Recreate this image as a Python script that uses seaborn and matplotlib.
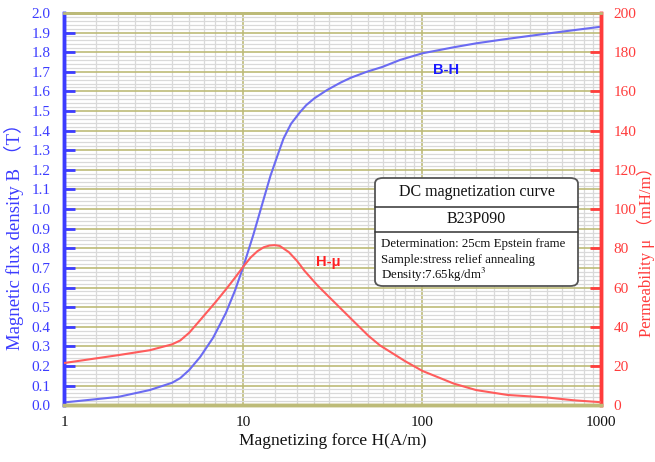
import numpy as np
import pandas as pd
import matplotlib
matplotlib.use("Agg")
import matplotlib.pyplot as plt
import seaborn as sns
from matplotlib.patches import FancyBboxPatch
from matplotlib.ticker import FixedLocator, NullFormatter, NullLocator, MultipleLocator

# B-H magnetization curve
h_b = [1, 2, 3, 4, 4.45, 5, 5.75, 6.8, 8, 9, 10, 11.4, 12, 13, 14.2, 15.5, 16.8,
       18.5, 20.8, 22.5, 25, 29.4, 35, 40, 49, 60, 75, 100, 150, 200, 284, 500,
       700, 1000]
b_t = [0.014, 0.042, 0.077, 0.114, 0.138, 0.18, 0.246, 0.345, 0.47, 0.585, 0.705,
       0.87, 0.94, 1.05, 1.17, 1.27, 1.36, 1.435, 1.495, 1.53, 1.565, 1.607, 1.645,
       1.67, 1.70, 1.725, 1.76, 1.794, 1.825, 1.845, 1.865, 1.895, 1.912, 1.93]

# H-mu permeability curve
h_mu = [1, 2, 3, 4, 4.45, 5, 5.75, 7, 8, 9, 10, 11, 12, 13, 14, 15, 16, 18, 20,
        22, 25.9, 30, 40, 50, 58, 80, 100, 150, 200, 300, 500, 700, 1000]
mu = [21.5, 25.5, 28, 31, 33, 37, 43.4, 52.5, 59, 65, 70.6, 75.3, 78.5, 80.5, 81.4,
      81.6, 81.2, 78, 73.5, 68.5, 61.2, 55.4, 44.1, 35.4, 30.5, 22.5, 17.5, 11,
      7.7, 5.2, 3.9, 2.5, 1.5]

b_ticks = [round(0.1 * i, 1) for i in range(21)]
mu_ticks = list(range(0, 201, 20))
h_ticks = [1, 10, 100, 1000]

title = "DC magnetization curve"
grade = "B23P090"
notes = ["Determination: 25cm Epstein frame",
         "Sample:stress relief annealing",
         "Density:7.65kg/dm$^3$"]

BLUE_LINE = "#6b6bf2"
BLUE_TXT = "#3c3cff"
RED_LINE = "#ff5c5c"
RED_TXT = "#ff3c3c"
OLIVE = "#bdbb78"
GRAY = "#d9d9d9"

sns.set_theme(style="white")
plt.rcParams["font.family"] = ["Liberation Serif", "Noto Sans CJK SC", "DejaVu Sans"]
plt.rcParams["mathtext.fontset"] = "stix"

fig = plt.figure(figsize=(6.55, 4.62), dpi=100)
ax = fig.add_axes([0.098, 0.123, 0.820, 0.849])
ax.set_xscale("log")
ax.set_xlim(1, 1000)
ax.set_ylim(0, 2.0)

# grid
minor_x = []
for dec in [1, 10, 100]:
    minor_x += [dec * m for m in [1.5, 2, 2.5, 3, 4, 5, 6, 7, 8, 9]]
ax.xaxis.set_minor_locator(FixedLocator(minor_x))
ax.xaxis.set_minor_formatter(NullFormatter())
ax.yaxis.set_major_locator(FixedLocator(b_ticks))
ax.yaxis.set_minor_locator(MultipleLocator(0.02))
ax.grid(which="minor", color=GRAY, linewidth=0.9, zorder=0)
ax.grid(which="major", color=OLIVE, linewidth=1.2, zorder=0)
ax.set_axisbelow(True)

dfb = pd.DataFrame({"H": h_b, "B": b_t})
sns.lineplot(data=dfb, x="H", y="B", ax=ax, color=BLUE_LINE, linewidth=1.5,
             estimator=None, sort=True, zorder=3)

ax.set_xticks(h_ticks)
ax.set_xticklabels([str(t) for t in h_ticks])
ax.set_yticks(b_ticks)
ax.set_yticklabels([f"{t:.1f}" for t in b_ticks])
ax.tick_params(axis="x", which="both", length=0, labelsize=11, pad=8, labelcolor="#111111")
ax.tick_params(axis="y", which="major", direction="in", length=8, width=2,
               color=BLUE_TXT, labelcolor=BLUE_TXT, labelsize=11, pad=10,
               left=True, right=False)
ax.tick_params(axis="y", which="minor", length=0)
ax.set_xlabel("Magnetizing force H(A/m)", fontsize=12.5, color="#111111", labelpad=3)
ax.set_ylabel("Magnetic flux density B （T）", fontsize=13.5, color=BLUE_TXT)
ax.yaxis.set_label_coords(-0.074, 0.44)

ax2 = ax.twinx()
ax2.set_ylim(0, 200)
dfm = pd.DataFrame({"H": h_mu, "mu": mu})
sns.lineplot(data=dfm, x="H", y="mu", ax=ax2, color=RED_LINE, linewidth=1.5,
             estimator=None, sort=True, zorder=3)
ax2.yaxis.set_major_locator(FixedLocator(mu_ticks))
ax2.yaxis.set_minor_locator(NullLocator())
ax2.set_yticklabels([str(t) for t in mu_ticks])
ax2.tick_params(axis="y", which="major", direction="in", length=8, width=2,
                color=RED_TXT, labelcolor=RED_TXT, labelsize=11, pad=9,
                right=True, left=False)
ax2.set_ylabel("Permeability μ （mH/m）", fontsize=12, color=RED_TXT)
ax2.yaxis.set_label_coords(1.066, 0.40)
ax2.set_xlabel("")
ax2.grid(False)

for a in (ax, ax2):
    a.spines["top"].set_color(OLIVE)
    a.spines["top"].set_linewidth(2)
    a.spines["bottom"].set_color(OLIVE)
    a.spines["bottom"].set_linewidth(2.5)
    a.spines["left"].set_color(BLUE_TXT)
    a.spines["left"].set_linewidth(2.5)
    a.spines["right"].set_color(RED_TXT)
    a.spines["right"].set_linewidth(2.5)

ax.text(135, 1.71, "B-H", color="#1a1aff", fontsize=10.5, fontweight="bold",
        family="Liberation Sans", ha="center", va="center", zorder=4)
ax2.text(30, 73, "H-μ", color="#ff2020", fontsize=10.5, fontweight="bold",
         family="Liberation Sans", ha="center", va="center", zorder=4)

# info box
W, H = 655.0, 462.0
x0, x1 = 375 / W, 578 / W
y_top, y_l1, y_l2, y_bot = 1 - 178 / H, 1 - 207 / H, 1 - 232 / H, 1 - 286 / H
box = FancyBboxPatch((x0, y_bot), x1 - x0, y_top - y_bot,
                     boxstyle="round,pad=0,rounding_size=0.012",
                     transform=fig.transFigure, facecolor="white",
                     edgecolor="#555555", linewidth=1.3, zorder=10)
fig.add_artist(box)
for yy in (y_l1, y_l2):
    fig.add_artist(plt.Line2D([x0, x1], [yy, yy], transform=fig.transFigure,
                              color="#333333", linewidth=1.1, zorder=11))
xc = (x0 + x1) / 2
fig.text(xc, (y_top + y_l1) / 2, title, ha="center", va="center",
         fontsize=11.5, color="#111111", zorder=12)
fig.text(xc, (y_l1 + y_l2) / 2, grade, ha="center", va="center",
         fontsize=11.5, color="#111111", zorder=12)
for i, line in enumerate(notes):
    fig.text(x0 + 6 / W, 1 - (244 + 15.5 * i) / H, line, ha="left", va="center",
             fontsize=9.3, color="#111111", zorder=12)

fig.savefig("out.png", dpi=100)
